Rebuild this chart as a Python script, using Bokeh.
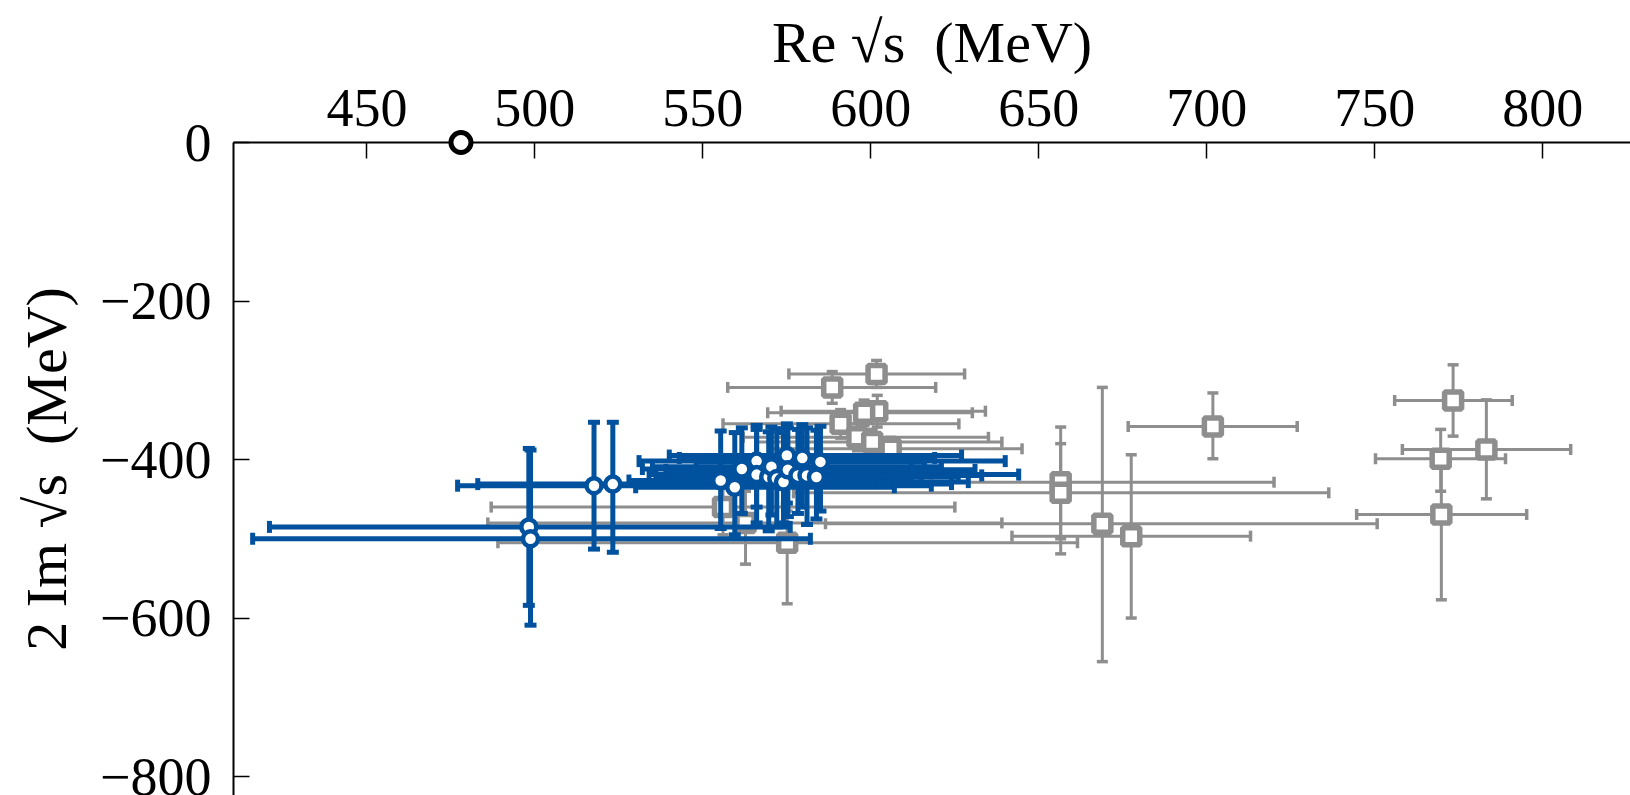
import math
from bokeh.plotting import figure
from bokeh.models import ColumnDataSource, FixedTicker, Range1d
from bokeh.core.properties import value
from bokeh.embed import file_html
from bokeh.resources import INLINE

# ---------------- data ----------------
x_ticks = [450, 500, 550, 600, 650, 700, 750, 800]
y_ticks = [0, -200, -400, -600, -800]
y_tick_labels = ["0", "\u2212200", "\u2212400", "\u2212600", "\u2212800"]
x_title = "Re \u221As\u2002(MeV)"
y_title = "2 Im \u221As\u2002(MeV)"

# reference pole (black open circle)
ref_re = [478.0]
ref_im = [0.0]

# grey squares: centre, x-error ends, y-error ends
grey_re = [601.7, 588.5, 601.9, 598.0, 591.0, 596.0, 600.4, 605.9,
           556.0, 562.7, 575.1, 656.5, 656.5, 668.9, 677.5, 701.8,
           773.3, 783.2, 769.6, 769.8]
grey_im = [-292, -309, -339, -341, -355, -372, -378, -386.5,
           -460, -480, -505, -428.6, -442, -481, -496.7, -358.3,
           -325.5, -387.3, -399, -469.3]
grey_re_lo = [575.6, 557.4, 573.3, 569.3, 556.0, 562.0, 566.0, 570.0,
              487.0, 486.0, 489.0, 593.0, 577.0, 586.5, 642.0, 676.6,
              755.9, 758.2, 750.2, 744.6]
grey_re_hi = [627.9, 619.3, 634.1, 630.2, 626.2, 635.0, 639.0, 645.0,
              625.0, 639.0, 661.5, 720.0, 736.3, 750.7, 713.0, 726.9,
              790.9, 808.3, 788.9, 795.2]
grey_im_hi = [-275, -289, -319, -325, -337, -355, -362, -372,
              -425, -440, -465, -359, -380, -309, -394, -316,
              -280.5, -324.7, -362, -410]
grey_im_lo = [-309, -329, -359, -357, -373, -389, -394, -401,
              -495, -532, -582, -500, -519, -655, -600, -399,
              -370.5, -449.6, -440, -577]

# blue circles: centre, x-error ends, y-error ends
blue_re = [498.2, 498.7, 517.6, 523.2,
           555.3, 559.5, 561.6, 566.0, 566.0, 569.6, 570.4, 572.0,
           574.0, 575.0, 575.3, 578.3, 579.6, 581.0, 583.8, 585.0]
blue_im = [-485, -500, -433, -431,
           -426.5, -435, -412, -402, -419, -422, -409, -424,
           -428.5, -395, -413, -420, -398, -420, -422, -403]
blue_re_lo = [421, 416, 477, 483,
              528, 530, 532, 531, 534, 536, 535, 538,
              537, 540, 539, 541, 543, 545, 546, 548]
blue_re_hi = [576, 582, 618, 624,
              602, 607, 612, 640, 644, 615, 621, 612,
              629, 627, 631, 633, 619, 624, 626, 616]
blue_im_hi = [-386, -388, -353, -353,
              -364, -366, -360, -357, -362, -365, -359, -361,
              -366, -355, -360, -362, -356, -360, -363, -358]
blue_im_lo = [-584, -609, -513, -517,
              -487, -495, -468, -460, -480, -490, -470, -485,
              -480, -455, -472, -468, -460, -482, -475, -465]

# ---------------- styling ----------------
GREY = "#8e8e8e"
BLUE = "#00519e"
FONT = "Liberation Serif"
FS = "54px"
TFS = "58px"

W, H = 1630, 795
LEFT, TOP = 233, 142
X0, X1 = 410.3, 826.1
Y0, Y1 = -823.9, 0.0

p = figure(width=W, height=H,
           x_range=Range1d(X0, X1), y_range=Range1d(Y0, Y1),
           x_axis_location="above", y_axis_location="left",
           output_backend="svg", toolbar_location=None,
           min_border_left=LEFT, min_border_top=TOP,
           min_border_right=0, min_border_bottom=0)
p.outline_line_color = None
p.xgrid.visible = False
p.ygrid.visible = False
p.background_fill_color = "white"
p.border_fill_color = "white"


def errorbars(re, im, re_lo, re_hi, im_lo, im_hi, color, lw, cap, caplw):
    src = ColumnDataSource(dict(x=re, y=im, xlo=re_lo, xhi=re_hi, ylo=im_lo, yhi=im_hi))
    p.segment(x0="xlo", y0="y", x1="xhi", y1="y", source=src, line_color=color, line_width=lw)
    p.segment(x0="x", y0="ylo", x1="x", y1="yhi", source=src, line_color=color, line_width=lw)
    for xc, yc, ang in (("xlo", "y", math.pi / 2), ("xhi", "y", math.pi / 2),
                        ("x", "ylo", 0.0), ("x", "yhi", 0.0)):
        p.scatter(x=xc, y=yc, source=src, marker="dash", size=cap, angle=ang,
                  line_color=color, line_width=caplw)
    return src


gsrc = errorbars(grey_re, grey_im, grey_re_lo, grey_re_hi, grey_im_lo, grey_im_hi,
                 GREY, 3, 11, 3.5)
p.scatter("x", "y", source=gsrc, marker="square", size=17, fill_color="white",
          line_color=GREY, line_width=5.5)

bsrc = errorbars(blue_re, blue_im, blue_re_lo, blue_re_hi, blue_im_lo, blue_im_hi,
                 BLUE, 5, 12, 5)
p.scatter("x", "y", source=bsrc, marker="circle", size=15, fill_color="white",
          line_color=BLUE, line_width=4.5)

p.scatter(ref_re, ref_im, marker="circle", size=20, fill_color="white",
          line_color="black", line_width=5, level="overlay")

# axes
for ax in (p.xaxis[0], p.yaxis[0]):
    ax.axis_line_color = "black"
    ax.axis_line_width = 2
    ax.major_tick_line_color = "black"
    ax.major_tick_line_width = 1.5
    ax.major_tick_in = 16
    ax.major_tick_out = 0
    ax.minor_tick_line_color = None
    ax.major_label_text_font = FONT
    ax.major_label_text_font_size = FS
    ax.major_label_text_color = "black"
    ax.axis_label_text_font = FONT
    ax.axis_label_text_font_size = TFS
    ax.axis_label_text_font_style = "normal"
    ax.axis_label_text_color = "black"

xa = p.xaxis[0]
xa.ticker = FixedTicker(ticks=x_ticks)
xa.major_label_standoff = 17

ya = p.yaxis[0]
ya.ticker = FixedTicker(ticks=y_ticks)
ya.major_label_overrides = {t: s for t, s in zip(y_ticks, y_tick_labels)}
ya.axis_label = y_title
ya.major_label_standoff = 22
ya.axis_label_standoff = 18

# x-axis title above the tick labels, drawn as an unclipped overlay text so the
# frame keeps its position
px_per_y = (H - TOP) / (Y1 - Y0)
p.text(x=[(X0 + X1) / 2], y=[Y1 + 100 / px_per_y], text=[x_title],
       text_align="center", text_baseline="middle",
       text_font=value(FONT), text_font_size=TFS, text_color="black",
       level="overlay")

open("out.html", "w").write(file_html(p, INLINE))
